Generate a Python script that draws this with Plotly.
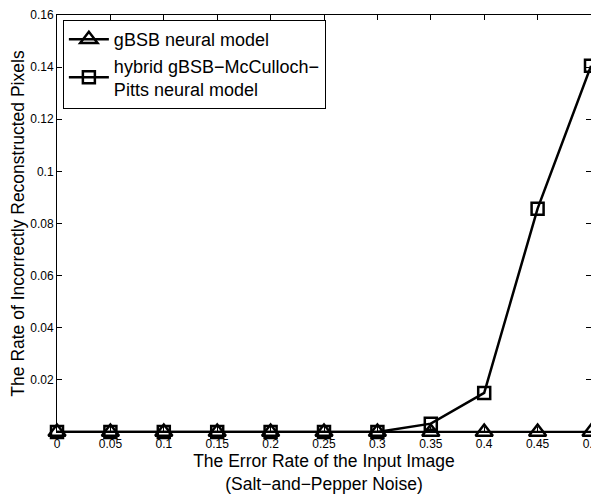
import plotly.graph_objects as go

x_vals = [0, 0.05, 0.1, 0.15, 0.2, 0.25, 0.3, 0.35, 0.4, 0.45, 0.5]
gbsb = [0, 0, 0, 0, 0, 0, 0, 0, 0, 0, 0]
hybrid = [0, 0, 0, 0, 0, 0, 0, 0.0032, 0.0150, 0.0857, 0.1405]
x_ticks = [0, 0.05, 0.1, 0.15, 0.2, 0.25, 0.3, 0.35, 0.4, 0.45, 0.5]
x_tick_text = ["0", "0.05", "0.1", "0.15", "0.2", "0.25", "0.3", "0.35", "0.4", "0.45", "0.5"]
y_ticks = [0.02, 0.04, 0.06, 0.08, 0.1, 0.12, 0.14, 0.16]
y_tick_text = ["0.02", "0.04", "0.06", "0.08", "0.1", "0.12", "0.14", "0.16"]

fig = go.Figure()
fig.add_trace(go.Scatter(
    x=x_vals, y=gbsb, mode="lines+markers", name="gBSB neural model",
    line=dict(color="black", width=2.5),
    marker=dict(symbol="triangle-up-open", size=15, color="black", line=dict(width=2.5, color="black")),
    cliponaxis=False,
))
fig.add_trace(go.Scatter(
    x=x_vals, y=hybrid, mode="lines+markers", name="hybrid gBSB\u2212McCulloch\u2212<br>Pitts neural model",
    line=dict(color="black", width=2.5),
    marker=dict(symbol="square-open", size=12, color="black", line=dict(width=2.5, color="black")),
    cliponaxis=False,
))

axis_common = dict(
    showgrid=False, zeroline=False, showline=True, linecolor="black", linewidth=1,
    mirror="ticks", ticks="inside", ticklen=5, tickcolor="black", tickwidth=1,
    tickfont=dict(size=12, color="black"), automargin=False,
    ticklabeloverflow="allow",
)

fig.update_layout(
    width=591, height=486,
    margin=dict(l=49, r=8, t=7, b=62),
    paper_bgcolor="white", plot_bgcolor="white",
    font=dict(family="Liberation Sans, Arial, sans-serif", color="black"),
    showlegend=True,
    legend=dict(
        x=0.011, y=0.988, xanchor="left", yanchor="top",
        bordercolor="black", borderwidth=1, bgcolor="white",
        font=dict(size=18, color="black"),
        tracegroupgap=0, itemwidth=40,
    ),
    xaxis=dict(
        range=[0, 0.5], tickvals=x_ticks, ticktext=x_tick_text,
        title=dict(text="The Error Rate of the Input Image<br>(Salt\u2212and\u2212Pepper Noise)",
                   font=dict(size=17.5, color="black"), standoff=10),
        ticklabelstandoff=1,
        **axis_common,
    ),
    yaxis=dict(
        range=[0, 0.16], tickvals=y_ticks, ticktext=y_tick_text,
        title=dict(text="The Rate of Incorrectly Reconstructed Pixels",
                   font=dict(size=17.5, color="black"), standoff=3),
        **axis_common,
    ),
)

fig.write_html("out.html")
